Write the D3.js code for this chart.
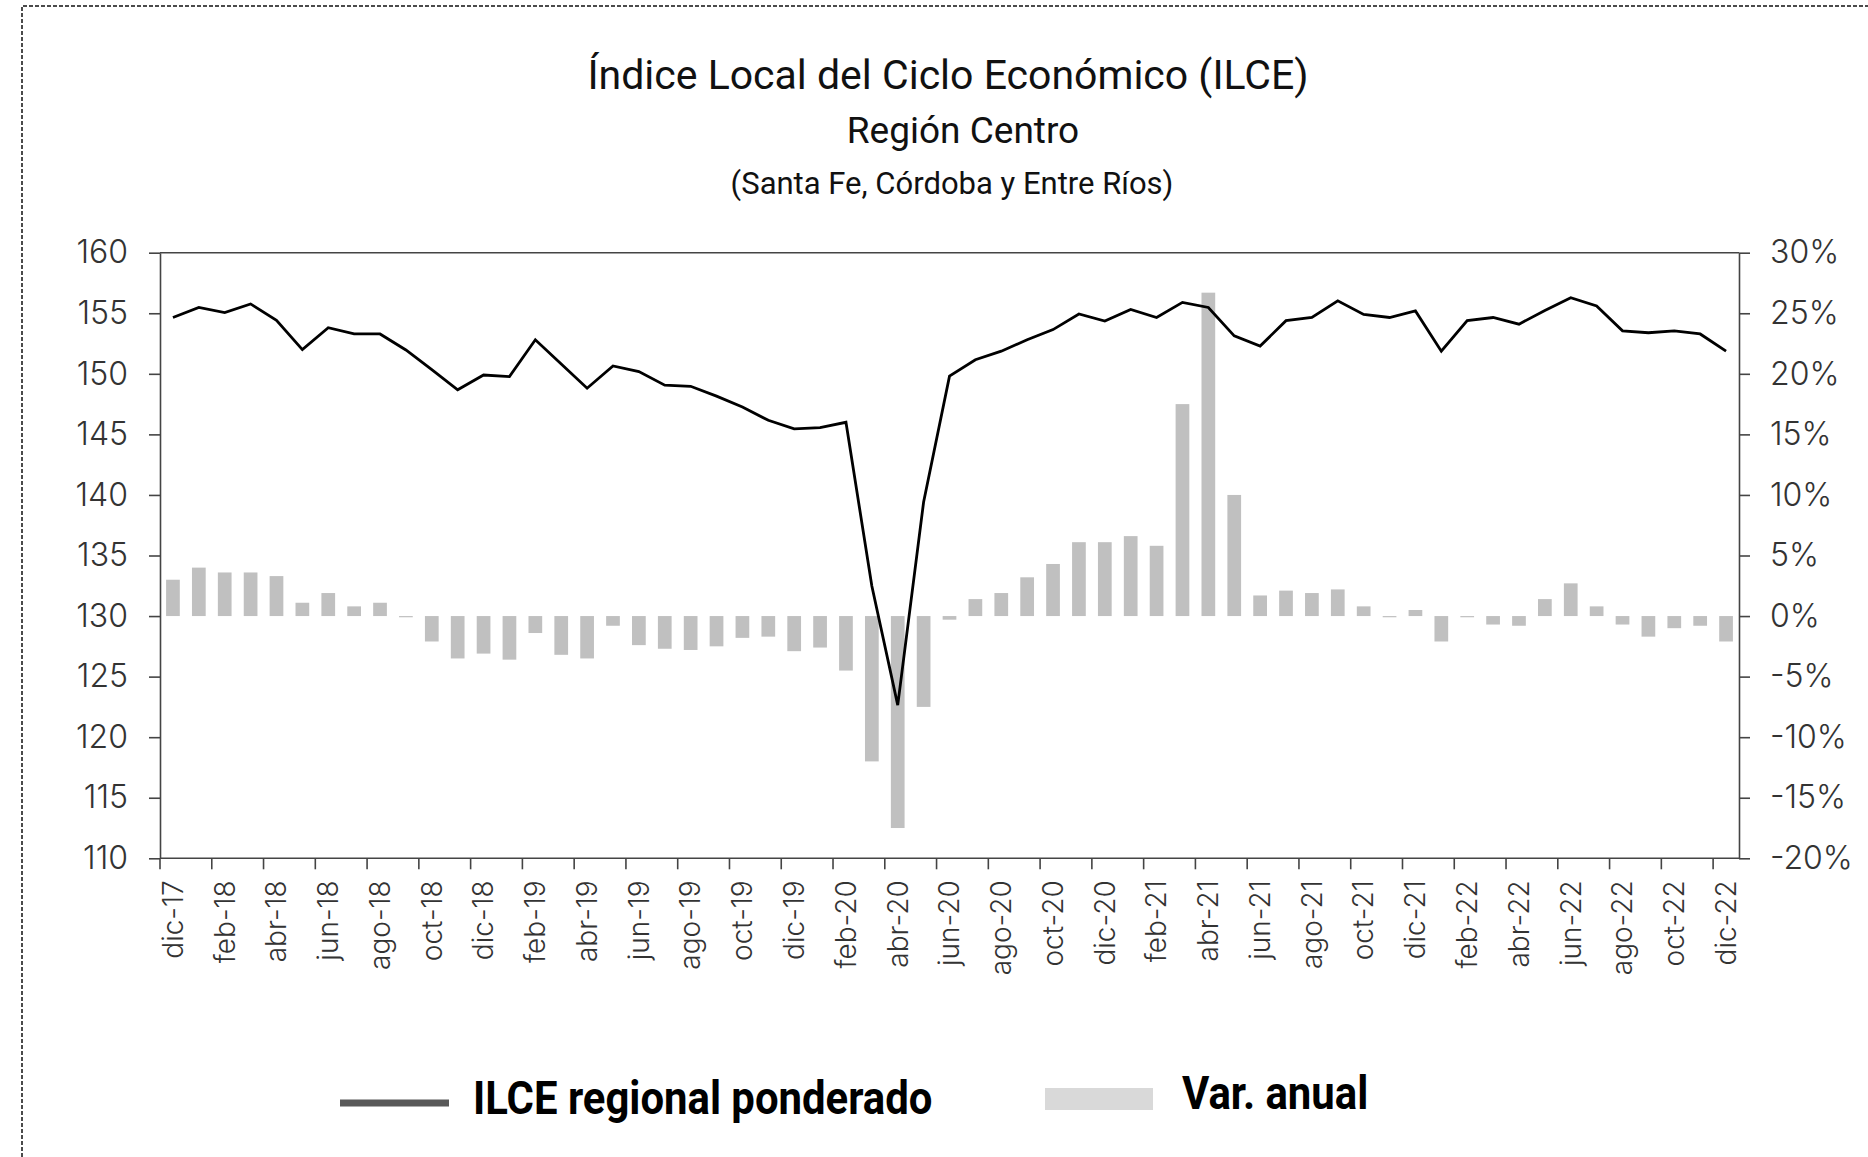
<!DOCTYPE html>
<html>
<head>
<meta charset="utf-8">
<script src="https://cdn.jsdelivr.net/npm/d3@7"></script>
<style>
body{margin:0;background:#fff;}
svg{display:block;}
</style>
</head>
<body>
<svg id="chart" width="1868" height="1157"></svg>
<script>
// categorias: dic-17 .. dic-22
var monthNames = ["ene","feb","mar","abr","may","jun","jul","ago","sep","oct","nov","dic"];
var months = ["dic-17"];
for(var yr = 18; yr <= 22; yr++){
	for(var m = 0; m < 12; m++){
		months.push(monthNames[m] + "-" + yr);
	}
}

// ILCE regional ponderado (eje izq)
var ilce = [154.65,155.48,155.06,155.77,154.42,152.0,153.81,153.29,153.29,151.97,
	150.35,148.68,149.9,149.77,152.81,150.81,148.81,150.65,150.19,149.06,
	148.97,148.16,147.26,146.16,145.45,145.55,146.0,132.48,122.65,139.42,
	149.81,151.16,151.87,152.81,153.65,154.94,154.35,155.32,154.65,155.9,
	155.48,153.13,152.29,154.39,154.65,156.03,154.9,154.65,155.19,151.87,
	154.39,154.65,154.1,155.23,156.29,155.61,153.55,153.39,153.55,153.29,
	151.87];

// Var. anual en % (eje der)
var varAnual = [3.0,4.0,3.6,3.6,3.3,1.1,1.9,0.8,1.1,-0.1,
	-2.1,-3.5,-3.1,-3.6,-1.4,-3.2,-3.5,-0.8,-2.4,-2.7,
	-2.8,-2.5,-1.8,-1.7,-2.9,-2.6,-4.5,-12.0,-17.5,-7.5,
	-0.3,1.4,1.9,3.2,4.3,6.1,6.1,6.6,5.8,17.5,
	26.7,10.0,1.7,2.1,1.9,2.2,0.8,-0.1,0.5,-2.1,
	-0.1,-0.7,-0.8,1.4,2.7,0.8,-0.7,-1.7,-1.0,-0.8,
	-2.1];

var leftTicks = [110,115,120,125,130,135,140,145,150,155,160];
var rightTicks = [-20,-15,-10,-5,0,5,10,15,20,25,30];
var labelMonths = months.filter(function(d, i){ return i % 2 === 0; });

var svg = d3.select("#chart");
var plotLeft = 160, plotRight = 1739, plotTop = 252.7, plotBottom = 858.3;
var tickFont = "Inter, 'DejaVu Sans', sans-serif";

// marco punteado
svg.append("path")
	.attr("d", "M22,1157 L22,6 L1868,6")
	.attr("fill", "none")
	.attr("stroke", "#111")
	.attr("stroke-width", 1.5)
	.attr("stroke-dasharray", "4,2");

// titulos
svg.append("text").attr("x", 948).attr("y", 89).attr("text-anchor", "middle")
	.style("font-family", "Roboto").style("font-size", "41px").style("fill", "#111")
	.text("Índice Local del Ciclo Económico (ILCE)");
svg.append("text").attr("x", 963).attr("y", 143).attr("text-anchor", "middle")
	.style("font-family", "Roboto").style("font-size", "37px").style("fill", "#111")
	.text("Región Centro");
svg.append("text").attr("x", 952).attr("y", 194).attr("text-anchor", "middle")
	.style("font-family", "Roboto").style("font-size", "31px").style("fill", "#111")
	.text("(Santa Fe, Córdoba y Entre Ríos)");

var x = d3.scaleBand().domain(months).range([plotLeft, plotRight]).paddingInner(0.47).paddingOuter(0.235);
var yL = d3.scaleLinear().domain([110, 160]).range([plotBottom, plotTop]);
var yR = d3.scaleLinear().domain([-20, 30]).range([plotBottom, plotTop]);
var half = (x.step() - x.bandwidth()) / 2;

// barras
svg.append("g").selectAll("rect").data(varAnual).enter().append("rect")
	.attr("x", function(d, i){ return x(months[i]); })
	.attr("width", x.bandwidth())
	.attr("y", function(d){ return yR(Math.max(d, 0)); })
	.attr("height", function(d){ return Math.max(Math.abs(yR(d) - yR(0)), 1); })
	.attr("fill", "#c0c0c0");

// linea
var line = d3.line()
	.x(function(d, i){ return x(months[i]) + x.bandwidth() / 2; })
	.y(function(d){ return yL(d); });
svg.append("path").datum(ilce)
	.attr("d", line)
	.attr("fill", "none")
	.attr("stroke", "#000")
	.attr("stroke-width", 2.8)
	.attr("stroke-linejoin", "miter");

// borde superior
svg.append("line").attr("x1", plotLeft).attr("x2", plotRight).attr("y1", plotTop).attr("y2", plotTop)
	.attr("stroke", "#444").attr("stroke-width", 1.6);

// eje izquierdo
var gL = svg.append("g").attr("transform", "translate(" + plotLeft + ",0)")
	.call(d3.axisLeft(yL).tickValues(leftTicks).tickSize(11).tickPadding(21).tickSizeOuter(0).tickFormat(d3.format("d")));
// eje derecho
var gR = svg.append("g").attr("transform", "translate(" + plotRight + ",0)")
	.call(d3.axisRight(yR).tickValues(rightTicks).tickSize(11).tickPadding(20).tickSizeOuter(0).tickFormat(function(d){ return d + "%"; }));
// eje inferior (etiquetas)
var gB = svg.append("g").attr("transform", "translate(0," + plotBottom + ")")
	.call(d3.axisBottom(x).tickValues(labelMonths).tickSize(0).tickPadding(0).tickSizeOuter(0));

[gL, gR, gB].forEach(function(g){
	g.select(".domain").attr("stroke", "#444").attr("stroke-width", 1.6);
	g.selectAll(".tick line").attr("stroke", "#444").attr("stroke-width", 1.6);
	g.selectAll("text").style("font-family", tickFont).style("font-weight", 300)
		.style("font-size", "32px").style("fill", "#333");
});
gB.select(".domain").attr("d", "M" + plotLeft + ",0H" + plotRight);
gB.selectAll(".tick text")
	.attr("transform", "rotate(-90)")
	.attr("text-anchor", "end")
	.attr("x", -22).attr("y", 0).attr("dy", "0.35em")
	.style("font-size", "28px");

// marcas entre categorias
svg.append("g").selectAll("line").data(labelMonths).enter().append("line")
	.attr("x1", function(d){ return x(d) - half; })
	.attr("x2", function(d){ return x(d) - half; })
	.attr("y1", plotBottom).attr("y2", plotBottom + 11)
	.attr("stroke", "#444").attr("stroke-width", 1.6);

// leyenda
svg.append("line").attr("x1", 340).attr("x2", 449).attr("y1", 1103).attr("y2", 1103)
	.attr("stroke", "#595959").attr("stroke-width", 7);
svg.append("text").attr("transform", "translate(473,1114) scale(0.91,1)")
	.style("font-family", "Roboto").style("font-weight", 700).style("font-size", "46px").style("fill", "#000")
	.text("ILCE regional ponderado");
svg.append("rect").attr("x", 1045).attr("y", 1088).attr("width", 108).attr("height", 22)
	.attr("fill", "#d9d9d9");
svg.append("text").attr("transform", "translate(1182,1109) scale(0.91,1)")
	.style("font-family", "Roboto").style("font-weight", 700).style("font-size", "46px").style("fill", "#000")
	.text("Var. anual");
</script>
</body>
</html>
